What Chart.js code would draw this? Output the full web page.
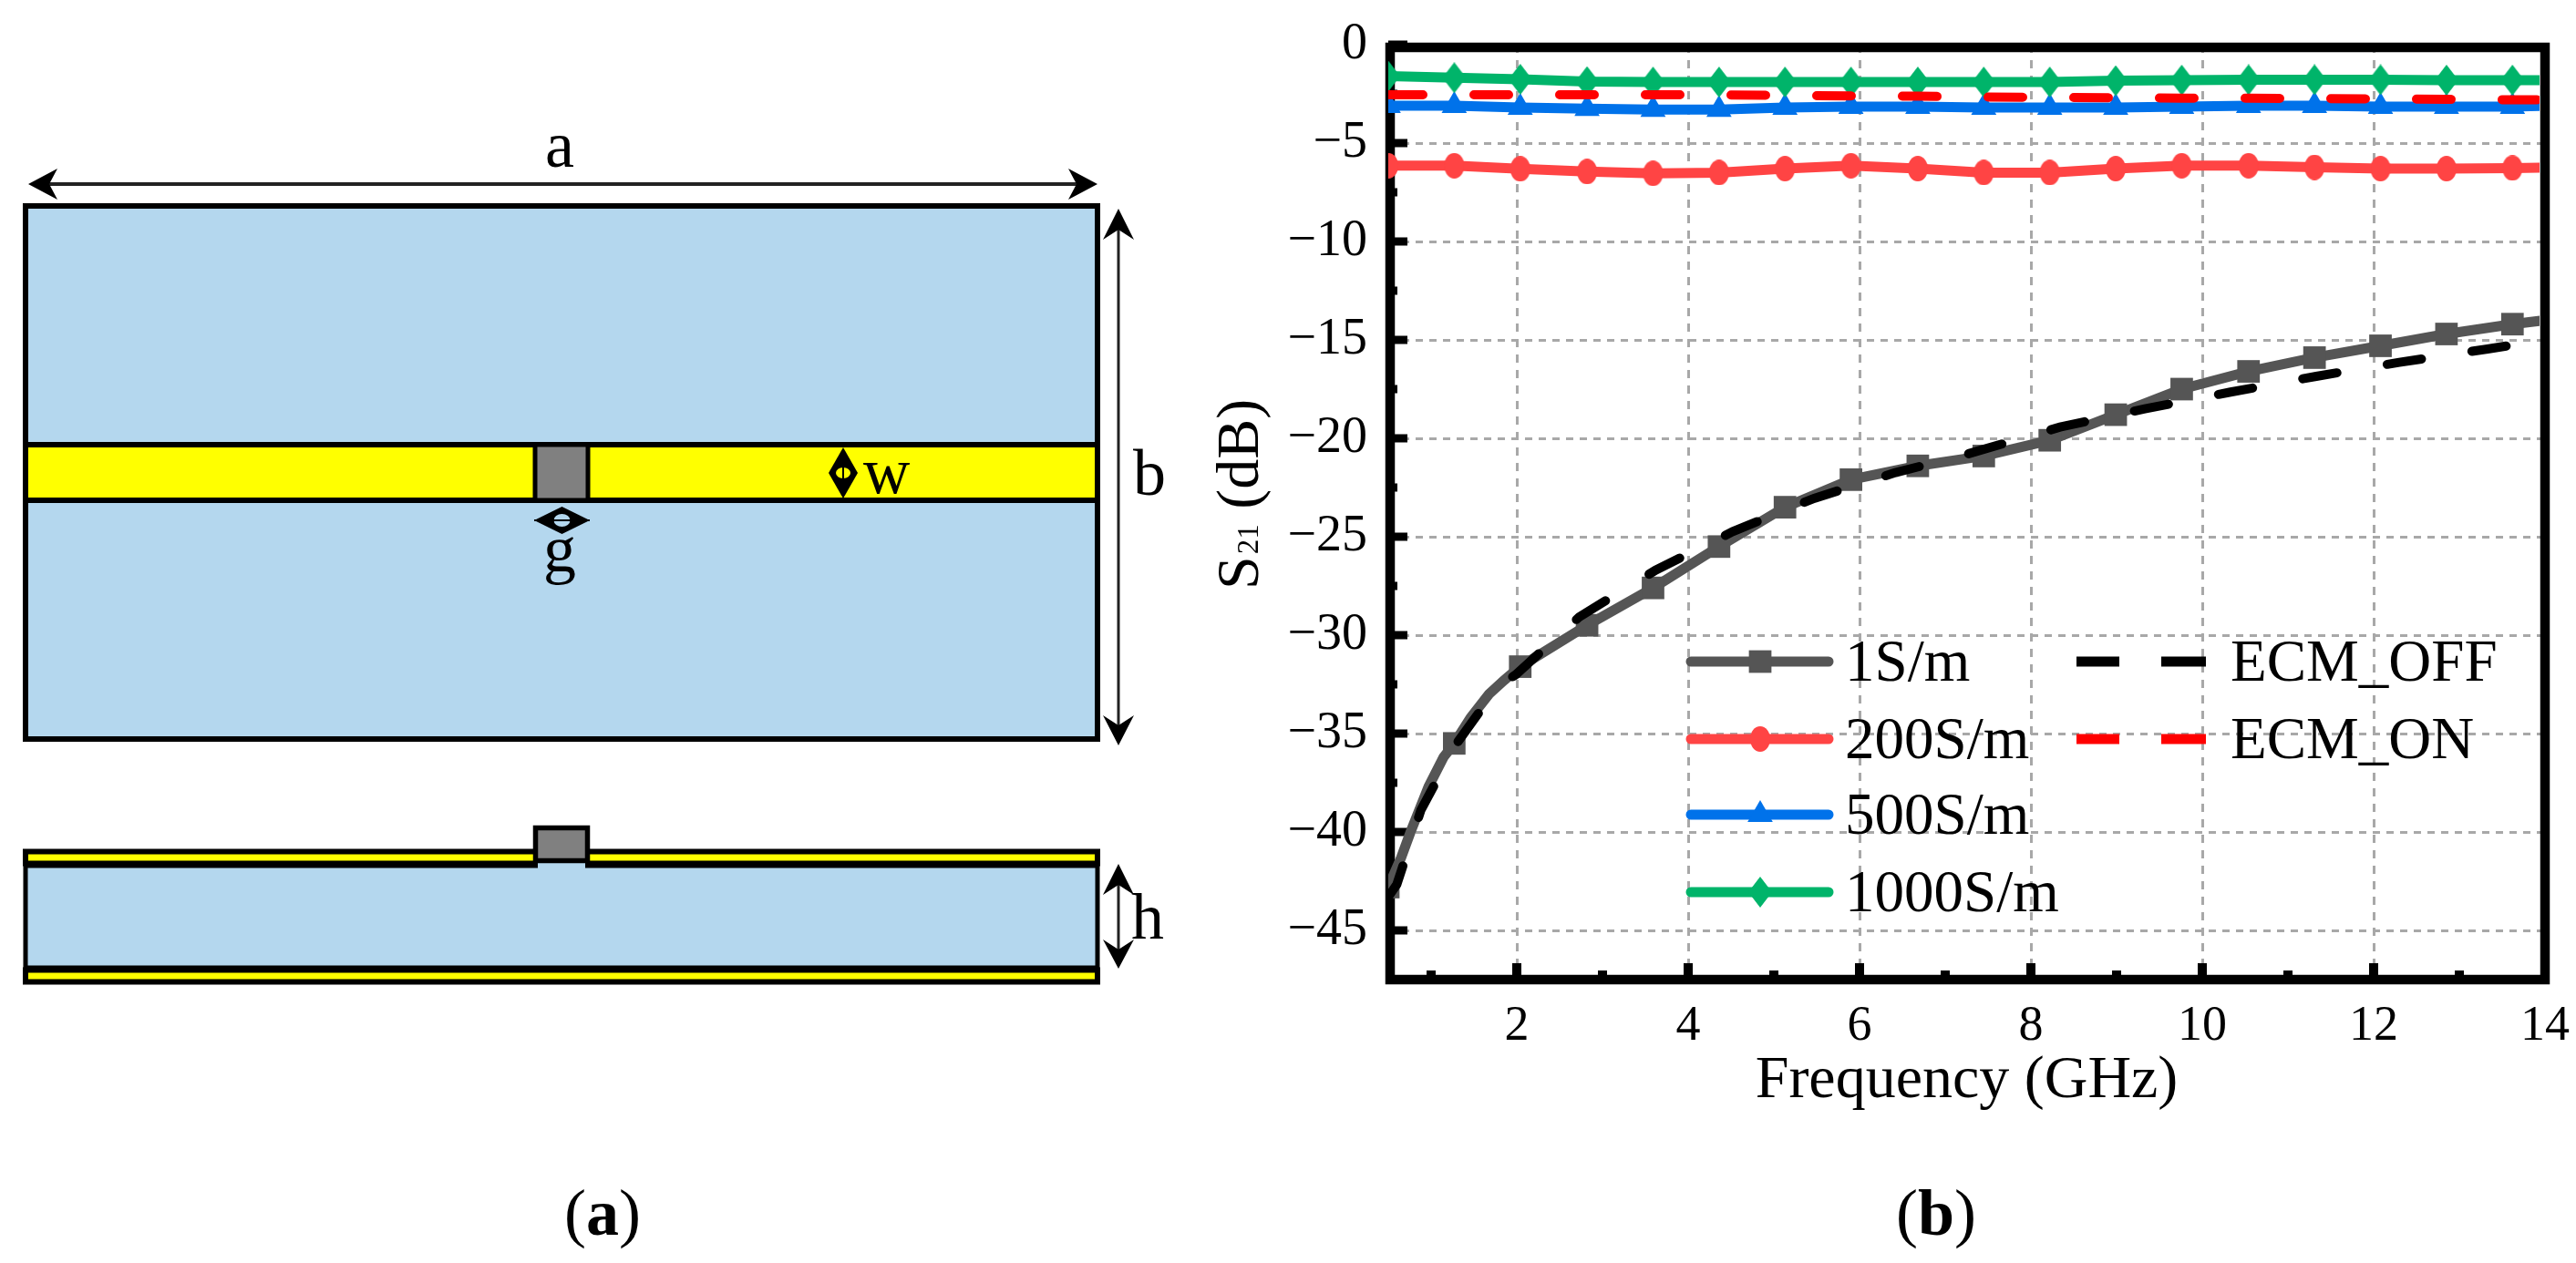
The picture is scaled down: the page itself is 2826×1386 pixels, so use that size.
<!DOCTYPE html>
<html>
<head>
<meta charset="utf-8">
<title>S21 vs frequency</title>
<script src="https://cdn.jsdelivr.net/npm/chart.js@4"></script>
<style>
  html, body { margin: 0; padding: 0; background: #fff; overflow: hidden; }
  #page { position: relative; width: 2826px; height: 1386px; }
  #schematic, #myChart { position: absolute; left: 0; top: 0; }
  #schematic text { font-family: "Liberation Serif", serif; fill: #000; }
</style>
</head>
<body>
<div id="page">
  <!-- panel (a), the structure sketch -->
  <svg id="schematic" width="2826" height="1386" xmlns="http://www.w3.org/2000/svg">
    <rect x="28" y="226" width="1176" height="585" fill="#B4D7EE" stroke="#000" stroke-width="6"/>
    <rect x="28" y="488" width="1176" height="61" fill="#FFFF00" stroke="#000" stroke-width="6"/>
    <rect x="587" y="488" width="58" height="61" fill="#808080" stroke="#000" stroke-width="5"/>

    <rect x="40" y="200" width="1155" height="4" fill="#222"/>
    <polygon points="31,202 63,185 54,202 63,219"/>
    <polygon points="1204,202 1172,185 1181,202 1172,219"/>
    <text x="614" y="183" font-size="72" text-anchor="middle">a</text>

    <rect x="1225.5" y="245" width="3" height="555" fill="#222"/>
    <polygon points="1227,229 1210,263 1227,252 1244,263"/>
    <polygon points="1227,818 1210,785 1227,796 1244,785"/>
    <text x="1243" y="543" font-size="72">b</text>

    <polygon points="925,491 909,519 925,547 941,519"/>
    <ellipse cx="925" cy="519" rx="8" ry="6" fill="#FFFF00"/>
    <rect x="924" y="512" width="2" height="14"/>
    <text x="947" y="541" font-size="71">w</text>

    <polygon points="586,571 616.5,556 647,571 616.5,586"/>
    <ellipse cx="616.5" cy="571" rx="9" ry="7" fill="#B4D7EE"/>
    <rect x="586" y="570" width="61" height="2"/>
    <text x="614" y="627" font-size="72" text-anchor="middle">g</text>

    <rect x="28" y="934.5" width="1176" height="13" fill="#FFFF00" stroke="#000" stroke-width="6"/>
    <rect x="28" y="950" width="1176" height="112" fill="#B4D7EE" stroke="#000" stroke-width="5"/>
    <rect x="28" y="1064.5" width="1176" height="13" fill="#FFFF00" stroke="#000" stroke-width="6"/>
    <rect x="590" y="944" width="52" height="10" fill="#B4D7EE"/>
    <rect x="587.5" y="908.5" width="57" height="36" fill="#808080" stroke="#000" stroke-width="5.5"/>

    <rect x="1225.5" y="960" width="3" height="92" fill="#222"/>
    <polygon points="1227,948 1210,982 1227,971 1244,982"/>
    <polygon points="1227,1063 1210,1031 1227,1042 1244,1031"/>
    <text x="1241" y="1030" font-size="72">h</text>

    <text x="661" y="1355" font-size="72" text-anchor="middle">(<tspan font-weight="bold">a</tspan>)</text>
    <text x="2124" y="1355" font-size="72" text-anchor="middle">(<tspan font-weight="bold">b</tspan>)</text>
  </svg>
  <canvas id="myChart" width="2826" height="1386"></canvas>
</div>

<script>
  // frequency points (GHz), the markers sit on all of these except the last
  const freqGHz = [0.5, 1.27, 2.04, 2.82, 3.59, 4.36, 5.13, 5.9, 6.68, 7.45, 8.22, 8.99, 9.76, 10.54, 11.31, 12.08, 12.85, 13.62, 14];

  const s200 = [-6.15, -6.15, -6.31, -6.45, -6.54, -6.5, -6.3, -6.15, -6.3, -6.5, -6.5, -6.3, -6.15, -6.15, -6.23, -6.3, -6.3, -6.27, -6.25];
  const s500 = [-3.1, -3.1, -3.2, -3.25, -3.3, -3.3, -3.2, -3.15, -3.15, -3.2, -3.2, -3.2, -3.15, -3.1, -3.1, -3.15, -3.15, -3.15, -3.1];
  const s1000 = [-1.6, -1.68, -1.76, -1.88, -1.9, -1.9, -1.9, -1.9, -1.9, -1.9, -1.9, -1.83, -1.8, -1.78, -1.78, -1.78, -1.8, -1.8, -1.8];
  const ecmOn = [-2.55, -2.55, -2.55, -2.55, -2.55, -2.55, -2.58, -2.6, -2.62, -2.66, -2.68, -2.7, -2.72, -2.72, -2.74, -2.76, -2.78, -2.8, -2.8];

  // the 1 S/m trace bends hard at the low end so it has a few more points
  const s1Freq = [0.5, 0.65, 0.76, 0.97, 1.145, 1.27, 1.46, 1.675, 1.85, 2.04, 2.82, 3.59, 4.36, 5.13, 5.9, 6.68, 7.45, 8.22, 8.99, 9.76, 10.54, 11.31, 12.08, 12.85, 13.62, 14];
  const s1 = [-42.8, -41.3, -40, -37.7, -36.2, -35.5, -34.2, -33, -32.3, -31.6, -29.5, -27.6, -25.5, -23.5, -22.1, -21.4, -20.9, -20.1, -18.8, -17.5, -16.6, -15.9, -15.3, -14.7, -14.2, -14];

  const ecmOffFreq = [0.5, 0.6, 0.65, 0.88, 1.29, 1.78, 1.99, 2.73, 3.62, 4.52, 5.47, 6.42, 7.18, 8.34, 9.33, 10.33, 11.33, 12.3, 13.33, 14];
  const ecmOff = [-43.3, -42.66, -42, -38.9, -35.55, -32.6, -32, -29.07, -26.7, -24.74, -23.05, -21.74, -20.9, -19.43, -18.5, -17.65, -16.85, -16.14, -15.46, -15];

  const xTicks = [2, 4, 6, 8, 10, 12, 14];
  const yTicks = [0, -5, -10, -15, -20, -25, -30, -35, -40, -45];
  const xMinor = [1, 3, 5, 7, 9, 11, 13];
  const yMinor = [-2.5, -7.5, -12.5, -17.5, -22.5, -27.5, -32.5, -37.5, -42.5, -47.5];

  const serif = '"Liberation Serif", serif';

  function makeMarker(kind, w, h, color) {
    const c = document.createElement('canvas');
    c.width = w;
    c.height = h;
    const g = c.getContext('2d');
    g.fillStyle = color;
    g.beginPath();
    if (kind === 'diamond') {
      g.moveTo(w / 2, 0);
      g.lineTo(w, h / 2);
      g.lineTo(w / 2, h);
      g.lineTo(0, h / 2);
      g.closePath();
    } else {
      g.ellipse(w / 2, h / 2, w / 2, h / 2, 0, 0, Math.PI * 2);
    }
    g.fill();
    return c;
  }

  const redDot = makeMarker('ellipse', 22, 28, '#FF4444');
  const greenDiamond = makeMarker('diamond', 26, 34, '#00B46A');

  function points(xs, ys) {
    return xs.map((x, i) => ({ x: x, y: ys[i] }));
  }

  function solid(label, xs, ys, color, style, radius, order) {
    return {
      label: label,
      data: points(xs, ys),
      borderColor: color,
      backgroundColor: color,
      borderWidth: 11,
      pointStyle: style,
      pointBorderWidth: 0,
      pointRadius: (ctx) => (ctx.raw.x < 14 && freqGHz.includes(ctx.raw.x) ? radius : 0),
      order: order,
      clip: { left: 0, top: 0, right: -6, bottom: 0 },
    };
  }

  function dashed(label, xs, ys, color, order) {
    return {
      label: label,
      data: points(xs, ys),
      borderColor: color,
      backgroundColor: color,
      borderWidth: 10,
      borderDash: [38, 56],
      borderCapStyle: 'round',
      pointRadius: 0,
      order: order,
      clip: { left: 0, top: 0, right: -6, bottom: 0 },
    };
  }

  const data = {
    datasets: [
      solid('1S/m', s1Freq, s1, '#555555', 'rect', 17.5, 6),
      solid('200S/m', freqGHz, s200, '#FF4444', redDot, 12, 5),
      solid('500S/m', freqGHz, s500, '#0072EA', 'triangle', 16, 4),
      solid('1000S/m', freqGHz, s1000, '#00B46A', greenDiamond, 14, 3),
      dashed('ECM_OFF', ecmOffFreq, ecmOff, '#000000', 2),
      dashed('ECM_ON', freqGHz, ecmOn, '#FF0000', 1),
    ],
  };

  // thick frame and inward ticks, under the traces like in the original
  const framePlugin = {
    id: 'frame',
    beforeDatasetsDraw(chart) {
      const { ctx, chartArea: a, scales } = chart;
      ctx.save();
      ctx.fillStyle = '#000';
      xTicks.forEach((v) => ctx.fillRect(scales.x.getPixelForValue(v) - 5, a.bottom - 18, 10, 18));
      xMinor.forEach((v) => ctx.fillRect(scales.x.getPixelForValue(v) - 5, a.bottom - 10, 10, 10));
      yTicks.forEach((v) => ctx.fillRect(a.left, scales.y.getPixelForValue(v) - 4.5, 21, 9));
      yMinor.forEach((v) => ctx.fillRect(a.left, scales.y.getPixelForValue(v) - 4.5, 10, 9));
      ctx.strokeStyle = '#000';
      ctx.lineWidth = 10.5;
      ctx.strokeRect(a.left + 2, a.top + 3, a.right - a.left - 2, a.bottom - a.top - 3);
      ctx.restore();
    },
    afterDraw(chart) {
      const { ctx } = chart;
      // y axis title, the 21 is a small subscript so it is set in pieces
      ctx.save();
      ctx.translate(1380, 647);
      ctx.rotate(-Math.PI / 2);
      ctx.fillStyle = '#000';
      ctx.textBaseline = 'alphabetic';
      ctx.font = '66px ' + serif;
      ctx.fillText('S', 0, 0);
      let x = ctx.measureText('S').width + 2;
      ctx.font = '33px ' + serif;
      ctx.fillText('21', x, 0);
      x += ctx.measureText('21').width;
      ctx.font = '66px ' + serif;
      ctx.fillText(' (dB)', x, 0);
      ctx.restore();
    },
  };

  // legend with a line and marker sample, two columns as in the original
  const legendPlugin = {
    id: 'lineLegend',
    afterDatasetsDraw(chart) {
      const { ctx } = chart;
      const rows = [726, 811, 894, 979];
      ctx.save();
      ctx.font = '65px ' + serif;
      ctx.textBaseline = 'alphabetic';
      chart.data.datasets.forEach((ds, i) => {
        const isDashed = !!ds.borderDash;
        const y = rows[isDashed ? i - 4 : i];
        ctx.strokeStyle = ds.borderColor;
        ctx.fillStyle = ds.borderColor;
        ctx.lineWidth = 11;
        ctx.lineCap = isDashed ? 'butt' : 'round';
        if (isDashed) {
          ctx.beginPath();
          ctx.moveTo(2278, y);
          ctx.lineTo(2325, y);
          ctx.moveTo(2371, y);
          ctx.lineTo(2420, y);
          ctx.stroke();
        } else {
          ctx.beginPath();
          ctx.moveTo(1855, y);
          ctx.lineTo(2006, y);
          ctx.stroke();
          const r = ds.pointStyle === 'rect' ? 17.5 : 16;
          Chart.helpers.drawPoint(ctx, { pointStyle: ds.pointStyle, radius: r, rotation: 0, borderWidth: 0 }, 1931, y);
        }
        ctx.fillStyle = '#000';
        ctx.fillText(ds.label, isDashed ? 2447 : 2024, y + 21);
      });
      ctx.restore();
    },
  };

  const config = {
    type: 'line',
    data,
    options: {
      responsive: false,
      animation: false,
      devicePixelRatio: 1,
      events: [],
      layout: { padding: { top: 49, right: 34, left: 0, bottom: 0 } },
      plugins: {
        legend: { display: false },
        tooltip: { enabled: false },
      },
      scales: {
        x: {
          type: 'linear',
          min: 0.5,
          max: 14,
          afterBuildTicks: (axis) => { axis.ticks = xTicks.map((v) => ({ value: v })); },
          afterFit: (axis) => {
            axis.height = 311;
            axis.paddingLeft = 0;
            axis.paddingRight = 0;
          },
          grid: { color: '#A8A8A8', lineWidth: 3, drawTicks: false },
          border: { display: false, dash: [9, 8] },
          ticks: {
            color: '#000',
            padding: 19,
            maxRotation: 0,
            autoSkip: false,
            font: { family: serif, size: 54 },
          },
          title: {
            display: true,
            text: 'Frequency (GHz)',
            color: '#000',
            font: { family: serif, size: 66 },
            padding: { top: 0, bottom: 160 },
          },
        },
        y: {
          min: -47.5,
          max: 0,
          afterBuildTicks: (axis) => { axis.ticks = yTicks.map((v) => ({ value: v })); },
          afterFit: (axis) => {
            axis.width = 1523;
            axis.paddingTop = 0;
            axis.paddingBottom = 0;
          },
          grid: { color: '#A8A8A8', lineWidth: 3, drawTicks: false },
          border: { display: false, dash: [8, 7] },
          ticks: {
            color: '#000',
            padding: 23,
            autoSkip: false,
            font: { family: serif, size: 56 },
            callback: (v) => String(v).replace('-', '\u2212'),
          },
        },
      },
    },
    plugins: [framePlugin, legendPlugin],
  };

  const myChart = new Chart(document.getElementById('myChart'), config);
</script>
</body>
</html>
